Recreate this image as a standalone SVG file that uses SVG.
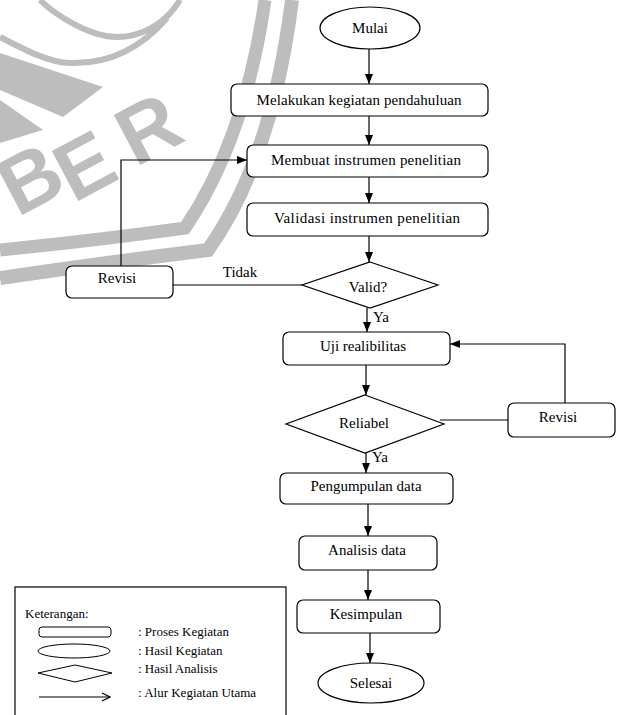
<svg xmlns="http://www.w3.org/2000/svg" width="618" height="715" viewBox="0 0 618 715">
<style>
.box{fill:#fff;stroke:#000;stroke-width:1.2}
.ln{fill:none;stroke:#000;stroke-width:1.2}
.t{font-family:"Liberation Serif","Times New Roman",serif;font-size:15px;fill:#000;text-anchor:middle}
.lg{font-family:"Liberation Serif","Times New Roman",serif;font-size:13px;fill:#000}
.wm{fill:none;stroke:#bdbdbd}
.wmf{fill:#bdbdbd}
.wmt{font-family:"Liberation Sans",Arial,sans-serif;font-weight:bold;font-size:82px;fill:#bdbdbd;text-anchor:middle}
</style>
<defs>
<marker id="ah" markerWidth="10" markerHeight="8" refX="10" refY="4" orient="auto" markerUnits="userSpaceOnUse">
<path d="M0,0 L10,4 L0,8 z" fill="#000"/>
</marker>
<marker id="oh" markerWidth="10" markerHeight="10" refX="9" refY="5" orient="auto" markerUnits="userSpaceOnUse">
<path d="M1,1 L9,5 L1,9" fill="none" stroke="#000" stroke-width="1.2"/>
</marker>
</defs>
<rect width="618" height="715" fill="#fff"/>

<g id="watermark">
<path class="wm" stroke-width="13" d="M 265 0 Q 245 140 185 228 Q 100 240 0 250"/>
<path class="wm" stroke-width="14" d="M 292 0 Q 272 160 208 250 Q 110 262 0 278"/>
<path class="wm" stroke-width="6" d="M 40 0 C 55 15 90 37 117 37 C 140 37 165 25 180 0"/>
<path class="wm" stroke-width="6" d="M 0 37 C 25 50 50 63 70 63 C 100 64 135 55 167 18"/>
<polygon class="wmf" points="0,53 103,87 63,117 0,90"/>
<polygon class="wmf" points="0,100 43,130 0,143"/>
<text class="wmt" transform="translate(30,178) rotate(-28)" y="29">B</text>
<text class="wmt" transform="translate(84,165) rotate(-28)" y="29">E</text>
<text class="wmt" transform="translate(148,128) rotate(-28)" y="29">R</text>
</g>

<g id="connectors">
<line class="ln" x1="369" y1="49" x2="369" y2="84" marker-end="url(#ah)"/>
<line class="ln" x1="369" y1="116" x2="369" y2="145" marker-end="url(#ah)"/>
<line class="ln" x1="369" y1="177" x2="369" y2="203" marker-end="url(#ah)"/>
<line class="ln" x1="369" y1="236" x2="369" y2="262" marker-end="url(#ah)"/>
<line class="ln" x1="367" y1="308" x2="367" y2="332" marker-end="url(#ah)"/>
<line class="ln" x1="302" y1="285" x2="173" y2="285"/>
<polyline class="ln" points="121,266 121,160 247,160" marker-end="url(#ah)"/>
<line class="ln" x1="366" y1="365" x2="366" y2="395" marker-end="url(#ah)"/>
<line class="ln" x1="366" y1="453" x2="366" y2="473" marker-end="url(#ah)"/>
<line class="ln" x1="440" y1="420" x2="508" y2="420"/>
<polyline class="ln" points="565,403 565,344 450,344" marker-end="url(#ah)"/>
<line class="ln" x1="368" y1="504" x2="368" y2="536" marker-end="url(#ah)"/>
<line class="ln" x1="368" y1="570" x2="368" y2="600" marker-end="url(#ah)"/>
<line class="ln" x1="370" y1="633" x2="370" y2="663" marker-end="url(#ah)"/>
<text class="t" x="240" y="277">Tidak</text>
<text class="t" x="381" y="322">Ya</text>
<text class="t" x="380" y="462">Ya</text>
</g>

<g id="mulai">
<ellipse class="box" cx="370" cy="28" rx="50" ry="21"/>
<text class="t" x="370" y="33">Mulai</text>
</g>
<g id="melakukan">
<rect class="box" x="231" y="84" width="257" height="32" rx="6"/>
<text class="t" x="359" y="105" textLength="205" lengthAdjust="spacing">Melakukan kegiatan pendahuluan</text>
</g>
<g id="membuat">
<rect class="box" x="247" y="145" width="241" height="32" rx="6"/>
<text class="t" x="366" y="165" textLength="190" lengthAdjust="spacing">Membuat instrumen penelitian</text>
</g>
<g id="validasi">
<rect class="box" x="247" y="203" width="241" height="33" rx="6"/>
<text class="t" x="367" y="223" textLength="186" lengthAdjust="spacing">Validasi instrumen penelitian</text>
</g>
<g id="valid">
<polygon class="box" points="370,262 438,285 370,308 302,285"/>
<text class="t" x="368" y="292">Valid?</text>
</g>
<g id="revisi1">
<rect class="box" x="66" y="266" width="107" height="32" rx="6"/>
<text class="t" x="117" y="283">Revisi</text>
</g>
<g id="uji">
<rect class="box" x="283" y="332" width="167" height="33" rx="6"/>
<text class="t" x="363" y="351">Uji realibilitas</text>
</g>
<g id="reliabel">
<polygon class="box" points="365,395 444,424 365,453 286,424"/>
<text class="t" x="364" y="428">Reliabel</text>
</g>
<g id="revisi2">
<rect class="box" x="508" y="403" width="107" height="34" rx="6"/>
<text class="t" x="558" y="422">Revisi</text>
</g>
<g id="pengumpulan">
<rect class="box" x="280" y="473" width="173" height="31" rx="6"/>
<text class="t" x="366" y="491">Pengumpulan data</text>
</g>
<g id="analisis">
<rect class="box" x="299" y="536" width="138" height="34" rx="6"/>
<text class="t" x="367" y="555">Analisis data</text>
</g>
<g id="kesimpulan">
<rect class="box" x="297" y="600" width="143" height="33" rx="6"/>
<text class="t" x="366" y="619">Kesimpulan</text>
</g>
<g id="selesai">
<ellipse class="box" cx="371" cy="683" rx="53" ry="20"/>
<text class="t" x="371" y="688">Selesai</text>
</g>

<g id="legend">
<rect x="15" y="587" width="271" height="140" fill="#fff" stroke="#000" stroke-width="1.2"/>
<text class="lg" x="25" y="618">Keterangan:</text>
<rect x="39" y="627" width="72" height="10" rx="3" fill="#fff" stroke="#000" stroke-width="1"/>
<ellipse cx="74" cy="651" rx="36" ry="7" fill="#fff" stroke="#000" stroke-width="1"/>
<polygon points="38,673 75,665 112,673 75,682" fill="#fff" stroke="#000" stroke-width="1"/>
<line x1="39" y1="697" x2="110" y2="697" stroke="#000" stroke-width="1.2" marker-end="url(#oh)"/>
<text class="lg" x="138" y="636">: Proses Kegiatan</text>
<text class="lg" x="138" y="655">: Hasil Kegiatan</text>
<text class="lg" x="138" y="673">: Hasil Analisis</text>
<text class="lg" x="138" y="697">: Alur Kegiatan Utama</text>
</g>
</svg>
